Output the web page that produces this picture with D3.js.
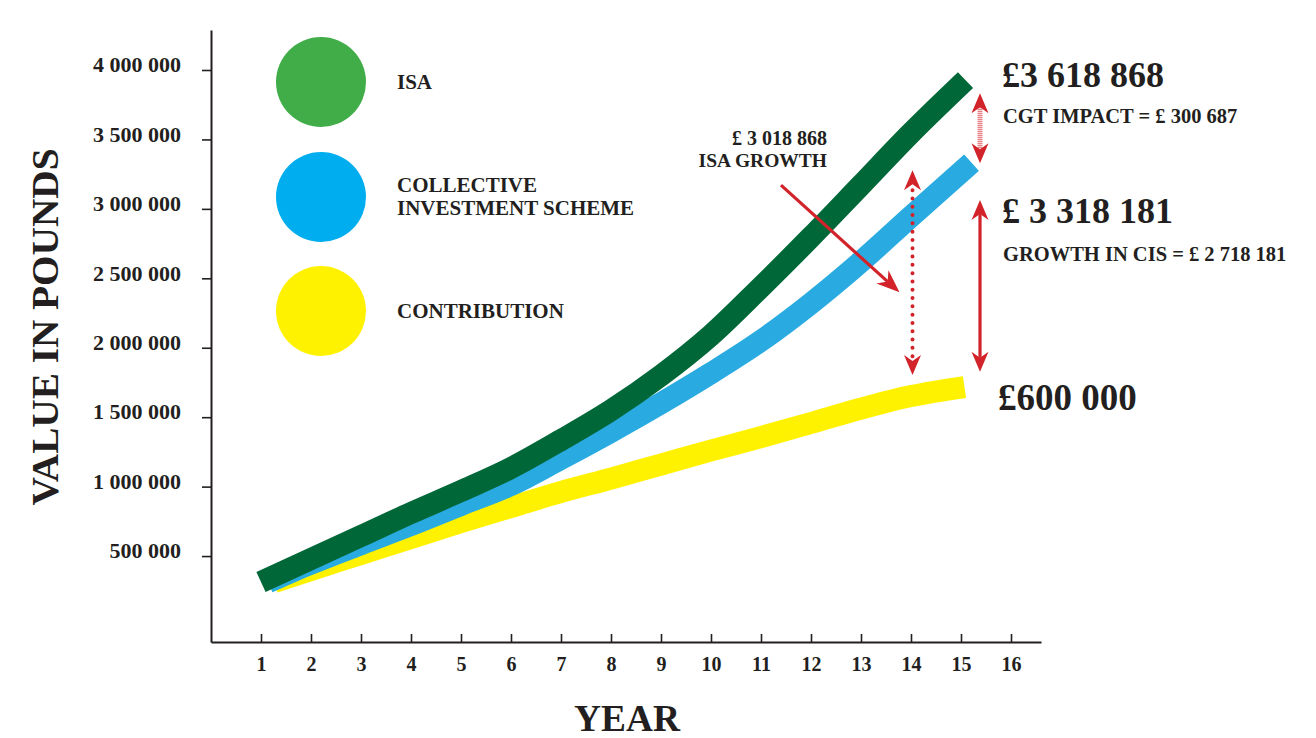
<!DOCTYPE html>
<html>
<head>
<meta charset="utf-8">
<script src="https://cdn.jsdelivr.net/npm/d3@7"></script>
<style>
  html, body { margin: 0; padding: 0; background: #ffffff; }
  svg { display: block; }
  text { font-family: "Liberation Serif", "Times New Roman", serif; fill: #231f20; }
</style>
</head>
<body>
<svg id="chart" width="1316" height="738"></svg>
<script>
// ---------------- data ----------------
const years = [1, 2, 3, 4, 5, 6, 7, 8, 9, 10, 11, 12, 13, 14, 15];
const isaValues = [313000, 479000, 644000, 810000, 968000, 1134000, 1335000, 1550000, 1800000, 2090000, 2437000, 2797000, 3171000, 3546000, 3927000];
const cisValues = [311000, 445000, 586000, 723000, 868000, 1011000, 1200000, 1395000, 1600000, 1817000, 2050000, 2320000, 2620000, 2945000, 3333000];
const contributionValues = [313000, 400000, 515000, 630000, 745000, 853000, 961000, 1058000, 1159000, 1260000, 1357000, 1458000, 1562000, 1652000, 1717000];
// where each drawn band begins / ends on the year axis
const lineStartYear = [1.0, 1.14, 1.26];   // ISA, CIS, contribution
const lineEndYear = [15.09, 15.21, 15.07];

const seriesNames = ["ISA", "COLLECTIVE\nINVESTMENT SCHEME", "CONTRIBUTION"];
const legendColors = ["#41ad49", "#00aeef", "#fff200"];
const lineColors = ["#006838", "#29abe2", "#fff200"];

const yTickValues = [500000, 1000000, 1500000, 2000000, 2500000, 3000000, 3500000, 4000000];
const yTickLabels = ["500 000", "1 000 000", "1 500 000", "2 000 000", "2 500 000", "3 000 000", "3 500 000", "4 000 000"];
const xTickValues = [1, 2, 3, 4, 5, 6, 7, 8, 9, 10, 11, 12, 13, 14, 15, 16];

// annotation arrows (year, value)
const diagArrowFrom = [11.4, 3171000];
const diagArrowTo = [13.77, 2399000];
const isaGrowthArrow = [14.03, 3279000, 1803000];   // dotted
const cisGrowthArrow = [15.38, 3063000, 1827000];   // solid
const cgtArrow = [15.38, 3832000, 3328000];         // hatched

const bigLabels = ["£3 618 868", "£ 3 318 181", "£600 000"];
const smallLabels = ["CGT IMPACT = £ 300 687", "GROWTH IN CIS = £ 2 718 181"];
const isaGrowthLabel = ["£ 3 018 868", "ISA GROWTH"];

// ---------------- layout ----------------
const svg = d3.select("#chart");
const ink = "#231f20";
const red = "#d2232a";

const x = d3.scaleLinear().domain([0, 16.6]).range([211, 1041]);
const y = d3.scaleLinear().domain([-118800, 4288000]).range([642, 30]);

// axes
const yAxis = d3.axisLeft(y)
  .tickValues(yTickValues)
  .tickFormat((d, i) => yTickLabels[i])
  .tickSizeInner(9).tickSizeOuter(0).tickPadding(21);
const gy = svg.append("g").attr("transform", `translate(${x(0)},0)`).call(yAxis);
gy.select(".domain").attr("stroke", ink).attr("stroke-width", 2);
gy.selectAll(".tick line").attr("stroke", ink).attr("stroke-width", 1.6);
gy.selectAll(".tick text")
  .attr("dy", "0.08em")
  .style("font-family", '"Liberation Serif", serif')
  .style("font-size", "22px").style("font-weight", "bold").attr("fill", ink);

const xAxis = d3.axisBottom(x)
  .tickValues(xTickValues)
  .tickFormat(d3.format("d"))
  .tickSizeInner(-8).tickSizeOuter(0).tickPadding(15);
const gx = svg.append("g").attr("transform", `translate(0,${y.range()[0]})`).call(xAxis);
gx.select(".domain").attr("stroke", ink).attr("stroke-width", 2);
gx.selectAll(".tick line").attr("stroke", ink).attr("stroke-width", 1.6);
gx.selectAll(".tick text")
  .style("font-family", '"Liberation Serif", serif')
  .style("font-size", "20px").style("font-weight", "bold").attr("fill", ink);

// axis titles
svg.append("text")
  .attr("transform", "translate(58,327) rotate(-90)")
  .attr("text-anchor", "middle")
  .attr("textLength", 357).attr("lengthAdjust", "spacingAndGlyphs")
  .style("font-size", "38px").style("font-weight", "bold")
  .text("VALUE IN POUNDS");

svg.append("text")
  .attr("x", 627).attr("y", 731)
  .attr("text-anchor", "middle")
  .attr("textLength", 106).attr("lengthAdjust", "spacingAndGlyphs")
  .style("font-size", "37px").style("font-weight", "bold")
  .text("YEAR");

// legend
const legendCy = [82, 197, 311];
seriesNames.forEach((name, i) => {
  svg.append("circle").attr("cx", 321).attr("cy", legendCy[i]).attr("r", 45).attr("fill", legendColors[i]);
  const lines = name.split("\n");
  const t = svg.append("text")
    .attr("x", 397)
    .style("font-size", "21px").style("font-weight", "bold");
  if (lines.length === 1) {
    t.attr("y", legendCy[i] + 7).text(lines[0]);
  } else {
    t.attr("y", legendCy[i] - 5).text(lines[0]);
    svg.append("text").attr("x", 397).attr("y", legendCy[i] + 18)
      .style("font-size", "21px").style("font-weight", "bold").text(lines[1]);
  }
});

// lines
const allValues = [isaValues, cisValues, contributionValues];
const line = d3.line().x(d => x(d[0])).y(d => y(d[1])).curve(d3.curveMonotoneX);
[2, 1, 0].forEach(si => {
  const vals = allValues[si];
  const pts = vals.map((v, i) => {
    let yr = years[i];
    if (i === 0) yr = lineStartYear[si];
    if (i === vals.length - 1) yr = lineEndYear[si];
    return [yr, v];
  });
  svg.append("path")
    .attr("d", line(pts))
    .attr("fill", "none")
    .attr("stroke", lineColors[si])
    .attr("stroke-width", 22)
    .attr("stroke-linejoin", "round")
    .attr("stroke-linecap", "butt");
});

// arrows
function head(tx, ty, ux, uy, L, W, N) {
  const nx = -uy, ny = ux;
  return `M${tx},${ty}L${tx - ux * L + nx * W},${ty - uy * L + ny * W}L${tx - ux * N},${ty - uy * N}L${tx - ux * L - nx * W},${ty - uy * L - ny * W}Z`;
}
function doubleArrow(px, v1, v2, style) {
  const X = x(px), y1 = y(v1), y2 = y(v2);
  const L = 20, W = 8.5, N = 14;
  const g = svg.append("g");
  const shaft = g.append("line")
    .attr("x1", X).attr("x2", X)
    .attr("y1", y1 + N).attr("y2", y2 - N)
    .attr("stroke", red);
  if (style === "dotted") {
    shaft.attr("y1", y1 + N + 6).attr("y2", y2 - N - 4)
      .attr("stroke-width", 4).attr("stroke-linecap", "round").attr("stroke-dasharray", "0 8.3");
  } else if (style === "hatched") {
    shaft.attr("stroke-width", 5).attr("stroke-dasharray", "1 1").attr("stroke", "#de5a5f");
  } else {
    shaft.attr("stroke-width", 3.2);
  }
  g.append("path").attr("d", head(X, y1, 0, -1, L, W, N)).attr("fill", red);
  g.append("path").attr("d", head(X, y2, 0, 1, L, W, N)).attr("fill", red);
}
doubleArrow(isaGrowthArrow[0], isaGrowthArrow[1], isaGrowthArrow[2], "dotted");
doubleArrow(cisGrowthArrow[0], cisGrowthArrow[1], cisGrowthArrow[2], "solid");
doubleArrow(cgtArrow[0], cgtArrow[1], cgtArrow[2], "hatched");

(function () {
  const x1 = x(diagArrowFrom[0]), y1 = y(diagArrowFrom[1]);
  const x2 = x(diagArrowTo[0]), y2 = y(diagArrowTo[1]);
  const len = Math.hypot(x2 - x1, y2 - y1);
  const ux = (x2 - x1) / len, uy = (y2 - y1) / len;
  const L = 23, W = 9, N = 16;
  svg.append("line")
    .attr("x1", x1).attr("y1", y1)
    .attr("x2", x2 - ux * N).attr("y2", y2 - uy * N)
    .attr("stroke", red).attr("stroke-width", 3.2);
  svg.append("path").attr("d", head(x2, y2, ux, uy, L, W, N)).attr("fill", red);
})();

// annotation texts
svg.append("text").attr("x", 827).attr("y", 145).attr("text-anchor", "end")
  .style("font-size", "20px").style("font-weight", "bold").text(isaGrowthLabel[0]);
svg.append("text").attr("x", 827).attr("y", 167).attr("text-anchor", "end")
  .style("font-size", "19.5px").style("font-weight", "bold").text(isaGrowthLabel[1]);

svg.append("text").attr("x", 1002).attr("y", 87)
  .style("font-size", "36px").style("font-weight", "bold").text(bigLabels[0]);
svg.append("text").attr("x", 1003).attr("y", 123)
  .style("font-size", "20.5px").style("font-weight", "bold").text(smallLabels[0]);
svg.append("text").attr("x", 1002).attr("y", 223)
  .style("font-size", "36px").style("font-weight", "bold").text(bigLabels[1]);
svg.append("text").attr("x", 1003).attr("y", 261)
  .style("font-size", "20.5px").style("font-weight", "bold").text(smallLabels[1]);
svg.append("text").attr("x", 998).attr("y", 410)
  .style("font-size", "37px").style("font-weight", "bold").text(bigLabels[2]);
</script>
</body>
</html>
